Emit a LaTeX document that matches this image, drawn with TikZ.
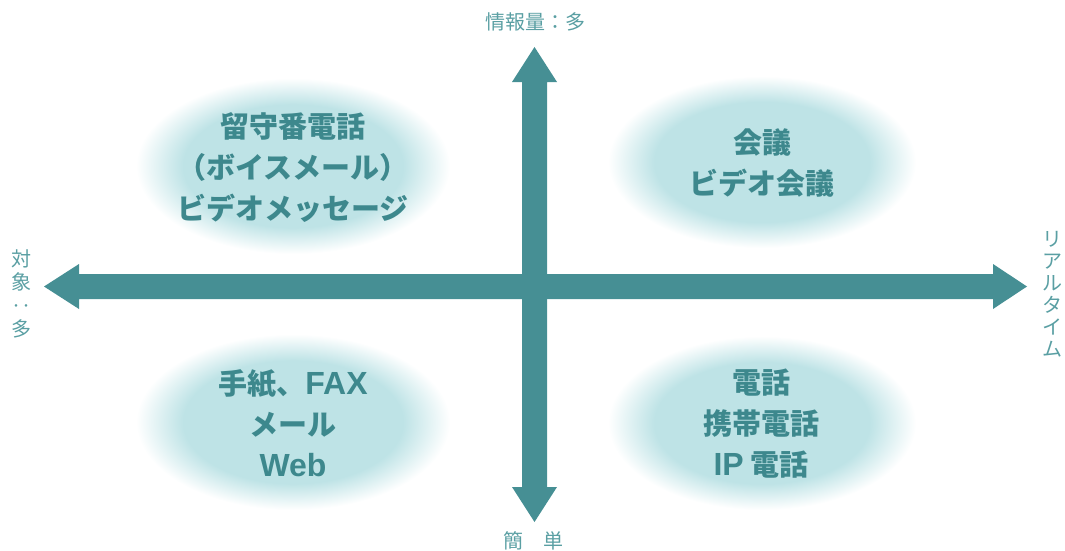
\documentclass[tikz,border=0pt]{standalone}
\usepackage{fontspec}
\newfontfamily\jp{Noto Sans CJK JP}
\newfontfamily\lat{Liberation Sans}
\definecolor{arrowc}{HTML}{468F94}
\definecolor{ellc}{HTML}{BEE3E6}
\definecolor{txtc}{HTML}{3D888D}
\definecolor{labc}{HTML}{5A9FA3}
\pgfdeclareradialshading{softell}{\pgfpoint{0bp}{0bp}}{color(0bp)=(ellc); color(17.5bp)=(ellc); color(25bp)=(white); color(50bp)=(white)}
\newcommand{\latw}[1]{{\lat\bfseries\fontsize{32}{41}\selectfont #1}}
\tikzset{
  bigarrow/.style={fill=arrowc, draw=none},
  quad/.style={font=\jp\bfseries\fontsize{29}{41}\selectfont, text=txtc, align=center},
  axlab/.style={font=\jp\fontsize{20}{23}\selectfont, text=labc, align=center},
}
\begin{document}
\begin{tikzpicture}[x=1pt,y=-1pt]
\useasboundingbox (0,0) rectangle (1065,551);
% soft ellipses
\shade[shading=softell] (136,78) rectangle (450,254);
\shade[shading=softell] (608,76) rectangle (916,248);
\shade[shading=softell] (136,334) rectangle (450,510);
\shade[shading=softell] (608,336) rectangle (916,510);
% arrows
\fill[bigarrow] (44,286.5) -- (79,264) -- (79,274) -- (993,274) -- (993,264) -- (1027,286.5)
  -- (993,309) -- (993,299) -- (79,299) -- (79,309) -- cycle;
\fill[bigarrow] (534.5,47) -- (557,82) -- (547,82) -- (547,487) -- (557,487) -- (534.5,522)
  -- (512,487) -- (522,487) -- (522,82) -- (512,82) -- cycle;
% quadrant texts
\node[quad] (ul) at (293,168) {留守番電話\\（ボイスメール）\\ビデオメッセージ};
\node[quad] (ur) at (762,163) {会議\\ビデオ会議};
\node[quad] (ll) at (293,423) {手紙、\latw{FAX}\\メール\\\latw{Web}};
\node[quad] (lr) at (761,424) {電話\\携帯電話\\\latw{IP} 電話};
% axis labels
\node[axlab] (top) at (535,22) {情報量：多};
\node[axlab] (bot) at (533,541) {簡　単};
\node[axlab, font=\jp\fontsize{20}{23.5}\selectfont] (left) at (22,294) {対\\象\\‥\\多};
\node[axlab, font=\jp\fontsize{20}{22}\selectfont] (right) at (1052,294) {リ\\ア\\ル\\タ\\イ\\ム};
\end{tikzpicture}
\end{document}
